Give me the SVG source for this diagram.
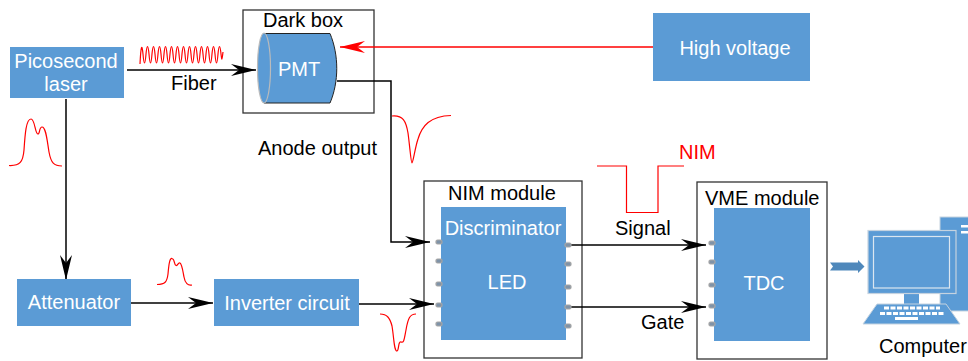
<svg xmlns="http://www.w3.org/2000/svg" width="968" height="361" viewBox="0 0 968 361">
<style>
.b{fill:#5b9bd5}
.t{font-family:"Liberation Sans",Arial,sans-serif;font-size:20px;fill:#000}
.w{font-family:"Liberation Sans",Arial,sans-serif;font-size:20px;fill:#fff;text-anchor:middle}
.c{fill:none;stroke:#000;stroke-width:1.5}
.r{fill:none;stroke:#f00;stroke-width:1.2}
.box{fill:#fff;stroke:#333;stroke-width:1.3}
.p{fill:#7f93a8;stroke:#a6a6a6;stroke-width:1.2}
</style>
<defs>
<marker id="a" markerUnits="userSpaceOnUse" markerWidth="26" markerHeight="14" refX="25" refY="6" orient="auto" overflow="visible">
<path d="M0 0L25 6L0 12L8 6Z" fill="#000"/>
</marker>
<marker id="ar" markerUnits="userSpaceOnUse" markerWidth="26" markerHeight="14" refX="25" refY="6" orient="auto" overflow="visible">
<path d="M0 0L25 6L0 12L8 6Z" fill="#f00"/>
</marker>
</defs>
<g id="dark-box"><rect class="box" x="243" y="10" width="131" height="103"/><text class="t" x="263" y="27">Dark box</text></g>
<g id="nim-module-box"><rect class="box" x="424" y="181" width="158" height="177"/><text class="t" x="448" y="200">NIM module</text></g>
<g id="vme-module-box"><rect class="box" x="697" y="182" width="130" height="177"/><text class="t" x="705" y="205">VME module</text></g>
<g id="connectors">
<path class="c" d="M127 70H256" marker-end="url(#a)"/>
<path class="c" d="M66 99V280" marker-end="url(#a)"/>
<path class="c" d="M130 303H213" marker-end="url(#a)"/>
<path class="c" d="M359 304H434" marker-end="url(#a)"/>
<path class="c" d="M337 81H391V242H430" marker-end="url(#a)"/>
<path class="c" d="M568 245H706" marker-end="url(#a)"/>
<path class="c" d="M568 307H706" marker-end="url(#a)"/>
<path d="M810 47H340" fill="none" stroke="#f00" stroke-width="1.4" marker-end="url(#ar)"/>
<path d="M830 262.500H858V260L864.500 266.500L858 273V270.500H830L833 266.500Z" fill="#4f88bb"/>
</g>
<g id="laser"><rect class="b" x="10" y="47" width="114" height="51"/><text class="w" x="66" y="68">Picosecond</text><text class="w" x="66" y="91">laser</text></g>
<g id="attenuator"><rect class="b" x="17" y="279" width="114" height="47"/><text class="w" x="74" y="309">Attenuator</text></g>
<g id="inverter"><rect class="b" x="214" y="279" width="145" height="47"/><text class="w" x="287" y="310">Inverter circuit</text></g>
<g id="high-voltage"><rect class="b" x="653" y="13" width="157" height="68"/><text class="w" x="735" y="55">High voltage</text></g>
<g id="pmt">
<path class="b" stroke="#222" stroke-width="1" d="M264 33.500H330C339 55 339 82 330 103H264Z"/>
<ellipse class="b" cx="264" cy="68" rx="6.500" ry="35" stroke="#bbb" stroke-width="1.200"/>
<text class="w" x="299" y="76">PMT</text>
</g>
<g id="discriminator">
<rect class="b" x="441" y="207" width="125" height="133"/>
<text class="w" x="503" y="235">Discriminator</text><text class="w" x="507" y="289">LED</text>
<g class="p"><rect x="436" y="240" width="6" height="4" rx="1.500"/><rect x="436" y="259" width="6" height="4" rx="1.500"/><rect x="436" y="282" width="6" height="4" rx="1.500"/><rect x="436" y="303" width="6" height="4" rx="1.500"/><rect x="436" y="322" width="6" height="4" rx="1.500"/><rect x="565" y="243" width="6" height="4" rx="1.500"/><rect x="565" y="262" width="6" height="4" rx="1.500"/><rect x="565" y="285" width="6" height="4" rx="1.500"/><rect x="565" y="305" width="6" height="4" rx="1.500"/><rect x="565" y="324" width="6" height="4" rx="1.500"/></g>
</g>
<g id="tdc">
<rect class="b" x="714" y="208" width="96" height="133"/>
<text class="w" x="764" y="290">TDC</text>
<g class="p"><rect x="709" y="241" width="6" height="4" rx="1.500"/><rect x="709" y="260" width="6" height="4" rx="1.500"/><rect x="709" y="283" width="6" height="4" rx="1.500"/><rect x="709" y="304" width="6" height="4" rx="1.500"/><rect x="709" y="322" width="6" height="4" rx="1.500"/></g>
</g>
<g id="computer">
<rect class="b" x="940" y="217" width="30" height="94" stroke="#c5d3e0"/>
<rect x="961" y="225" width="7" height="2.500" fill="#fff"/><rect x="961" y="231" width="7" height="2.500" fill="#fff"/>
<rect x="904" y="293" width="15" height="12" class="b"/>
<rect class="b" x="868" y="230.500" width="88" height="63" stroke="#c5d3e0" stroke-width="1.200"/>
<rect class="b" x="873.500" y="236.500" width="76" height="51.500" stroke="#dbe6f0" stroke-width="1.200"/>
<path class="b" stroke="#c5d3e0" d="M877 304H946L960 324H863Z"/>
<path d="M884 308H940M880 313.500H945" stroke="#fff" stroke-width="3" stroke-dasharray="5 1.500"/>
<rect x="895" y="317" width="23" height="3" fill="#fff"/>
<text class="t" x="879" y="353">Computer</text>
</g>
<g id="labels">
<text class="t" x="171" y="90">Fiber</text>
<text class="t" x="258" y="155">Anode output</text>
<text class="t" x="615" y="235">Signal</text>
<text class="t" x="641" y="329">Gate</text>
<text x="679" y="159" font-family="Liberation Sans,Arial,sans-serif" font-size="20" fill="#f00">NIM</text>
</g>
<g id="pulses">
<path class="r" d="M140 64C141 44 142 44 143 54C144 66 145 66 146 54C147 44 148 44 149 54C150 66 151 66 152 54C153 44 154 44 155 54C156 66 157 66 158 54C159 44 160 44 161 54C162 66 163 66 164 54C165 44 166 44 167 54C168 66 169 66 170 54C171 44 172 44 173 54C174 66 175 66 176 54C177 44 178 44 179 54C180 66 181 66 182 54C183 44 184 44 185 54C186 66 187 66 188 54C189 44 190 44 191 54C192 66 193 66 194 54C195 44 196 44 197 54C198 66 199 66 200 54C201 44 202 44 203 54C204 66 205 66 206 54C207 44 208 44 209 54C210 66 211 66 212 54C213 44 214 44 215 54C216 66 217 66 218 54C219 44 220 44 221 54C222 62 222 60 223 52"/>
<path class="r" d="M9 165.500C20 166 23 162 24 150C25 135 26 119 31 119C35 119 35 134 38 134C40 134 39 127 42 127C46 127 47 140 49 152C51 163 54 166 62 166"/>
<path class="r" d="M157 284.500C165 284.500 167 282 168 274C169 262 170 258 172 258.500C175 259 174 265 176 265.500C178 266 178 262 180 263C182 264 183 272 184 277C185 283 188 286 192 285"/>
<path class="r" d="M380 314C387 314 390 318 392 326C394 338 394 351 397 351C399 351 398 341 401 342C404 343 404 340 406 330C408 318 410 314 416 314"/>
<path class="r" d="M392 116C403 115 406 121 408 133C410 148 411 163 412 163C413 163 415 148 418 139C422 126 430 116 451 115.500"/>
<path class="r" d="M597 166H626.500V212.500H658V166H684"/>
</g>
</svg>
